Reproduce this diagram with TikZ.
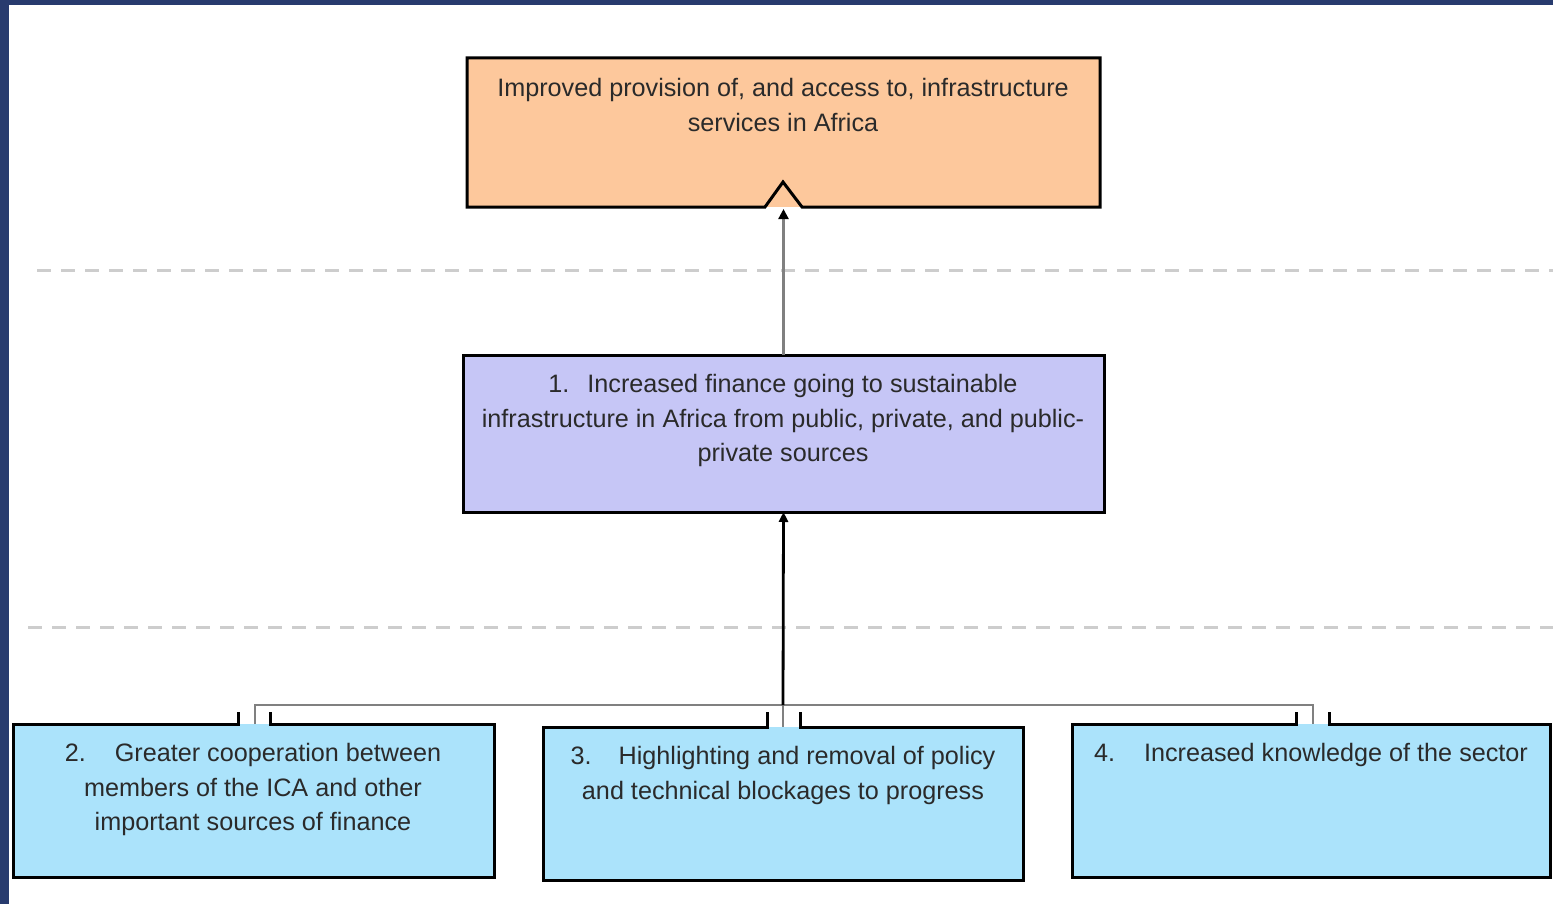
\documentclass[tikz,border=0pt]{standalone}
\usepackage{fontspec}
\setmainfont{Liberation Sans}
\usetikzlibrary{arrows.meta}
\definecolor{frameblue}{HTML}{283B6E}
\definecolor{peach}{HTML}{FDC89C}
\definecolor{lavender}{HTML}{C6C6F6}
\definecolor{lightblue}{HTML}{ABE3FB}
\definecolor{txtcol}{HTML}{2A2A2A}
\definecolor{dashgray}{HTML}{CDCDCD}
\definecolor{conngray}{HTML}{808080}
\tikzset{
  boxfill/.style={draw=none, inner sep=0pt, outer sep=0pt, anchor=north west},
  border/.style={draw=black, line width=1.5pt, line join=miter},
  txt/.style={anchor=north, inner sep=0pt, align=center, text=txtcol,
    font=\fontsize{12.6}{17.25}\selectfont},
  dashline/.style={draw=dashgray, line width=1.5pt, dash pattern=on 7pt off 5pt},
  conn/.style={draw=conngray, line width=1.1pt},
  uparrow/.style={draw=conngray, line width=1.1pt, -{Triangle[length=5pt,width=5pt,black]}},
  mainarrow/.style={draw=black, line width=1.4pt, -{Triangle[length=5pt,width=4.5pt]}}
}
\begin{document}
\begin{tikzpicture}[x=0.5pt,y=-0.5pt]
\useasboundingbox (0,0) rectangle (1553,904);
\fill[frameblue] (0,0) rectangle (1553,904);
\fill[white] (9,5) rectangle (1553,904);

% dashed separators
\draw[dashline] (37,270) -- (1553,270);
\draw[dashline] (28,627) -- (1553,627);

% box fills
\node[boxfill, fill=peach, minimum width=316.5pt, minimum height=74.5pt] (top) at (467,58) {};
\node[boxfill, fill=lavender, minimum width=320.5pt, minimum height=78.5pt] (mid) at (463,355) {};
\node[boxfill, fill=lightblue, minimum width=240.5pt, minimum height=76.5pt] (b2) at (13,724) {};
\node[boxfill, fill=lightblue, minimum width=240pt, minimum height=76.5pt] (b3) at (543,727) {};
\node[boxfill, fill=lightblue, minimum width=239pt, minimum height=76.5pt] (b4) at (1072,724) {};

% borders
\draw[border] (top.south west) -- (765,207) -- (783,182) -- (802,207) -- (top.south east)
  -- (top.north east) -- (top.north west) -- cycle;
\draw[border] (mid.north west) rectangle (mid.south east);
\draw[border] (238,712) -- (238,724) -- (b2.north west) -- (b2.south west)
  -- (b2.south east) -- (b2.north east) -- (270,724) -- (270,712);
\draw[border] (767,712) -- (767,727) -- (b3.north west) -- (b3.south west)
  -- (b3.south east) -- (b3.north east) -- (800,727) -- (800,712);
\draw[border] (1296,712) -- (1296,724) -- (b4.north west) -- (b4.south west)
  -- (b4.south east) -- (b4.north east) -- (1329,724) -- (1329,712);

% texts
\node[txt] (toptext) at (783,78) {Improved provision of, and access to, infrastructure\\services in Africa};
\node[txt] (midtext) at (783,374) {1.\hspace{9pt}Increased finance going to sustainable\\infrastructure in Africa from public, private, and public-\\private sources};
\node[txt] (t2) at (253,743) {2.\hspace{14.5pt}Greater cooperation between\\members of the ICA and other\\important sources of finance};
\node[txt] (t3) at (783,746) {3.\hspace{13.5pt}Highlighting and removal of policy\\and technical blockages to progress};
\node[txt] (t4) at (1311,743) {4.\hspace{14.5pt}Increased knowledge of the sector};

% connectors
\coordinate (j2) at (255,705);
\coordinate (j3) at (783,705);
\coordinate (j4) at (1313,705);
\draw[conn] (j2 |- b2.north) -- (j2) -- (j4) -- (j4 |- b4.north);
\draw[conn] (j3) -- (j3 |- b3.north);
\draw[mainarrow] (j3) -- (mid.south);
\draw[uparrow, shorten >=1pt] (mid.north) -- (top.south);
\end{tikzpicture}
\end{document}
